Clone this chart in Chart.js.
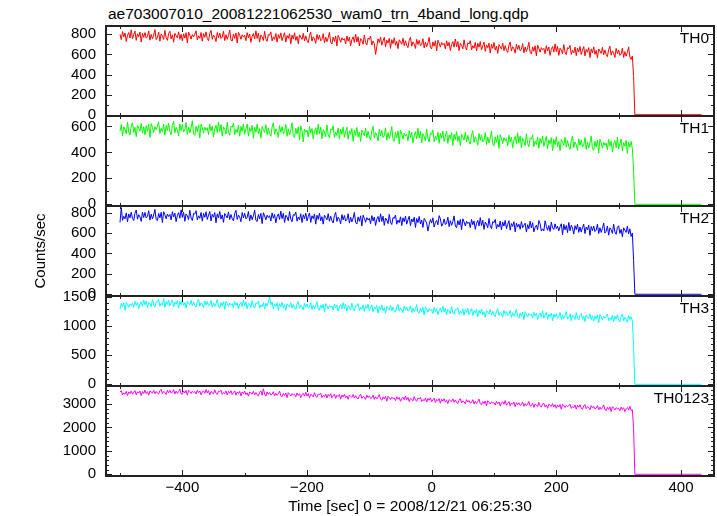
<!DOCTYPE html>
<html>
<head>
<meta charset="utf-8">
<script src="https://cdn.jsdelivr.net/npm/chart.js@4.4.1/dist/chart.umd.min.js"></script>
<style>
  body { margin: 0; background: #fff; }
  #wrap { position: relative; width: 717px; height: 516px; overflow: hidden; }
  #wrap canvas { position: absolute; left: 0; }
  #title {
    position: absolute; left: 108px; top: 5px;
    font: 15.5px "Liberation Sans", Arial, sans-serif; color: #000;
    line-height: 18px; white-space: nowrap;
  }
</style>
</head>
<body>
<div id="wrap">
  <div id="title">ae703007010_20081221062530_wam0_trn_4band_long.qdp</div>
</div>
<script>
/* =========================
    DATA (2 s bins from -500 s, last bin = drop at 324 s)
========================= */

const T0 = -500;
const DT = 2;

const th0 = [
  800, 747, 827, 775, 813, 730, 790, 818, 763, 845,
  755, 797, 833, 740, 805, 777, 823, 723, 810, 770,
  817, 762, 777, 834, 742, 800, 754, 792, 847, 747,
  770, 822, 732, 804, 785, 749, 840, 764, 740, 809,
  830, 755, 795, 722, 810, 788, 765, 825, 750, 800,
  735, 805, 762, 816, 715, 822, 792, 752, 798, 775,
  802, 835, 745, 785, 760, 818, 732, 808, 770, 825,
  758, 736, 808, 840, 750, 793, 772, 728, 818, 766,
  813, 758, 773, 830, 738, 796, 750, 788, 843, 743,
  733, 803, 760, 814, 713, 820, 790, 750, 796, 773,
  790, 737, 817, 765, 803, 720, 780, 808, 753, 835,
  760, 812, 722, 794, 775, 739, 830, 754, 730, 799,
  792, 825, 735, 775, 750, 808, 722, 798, 760, 815,
  738, 780, 816, 723, 788, 760, 806, 706, 793, 753,
  815, 740, 780, 707, 795, 773, 750, 810, 735, 785,
  740, 718, 790, 822, 732, 775, 754, 710, 800, 748,
  790, 735, 750, 807, 715, 773, 727, 765, 820, 720,
  703, 773, 730, 784, 683, 790, 760, 720, 766, 743,
  757, 704, 784, 732, 770, 687, 747, 775, 720, 802,
  723, 775, 685, 757, 738, 702, 793, 717, 693, 762,
  750, 783, 693, 733, 708, 600, 680, 756, 718, 773,
  692, 734, 770, 677, 742, 714, 760, 660, 747, 707,
  766, 691, 731, 658, 746, 724, 701, 761, 686, 736,
  690, 668, 740, 772, 682, 725, 704, 660, 750, 698,
  740, 685, 700, 757, 665, 723, 677, 715, 770, 670,
  655, 725, 682, 736, 635, 742, 712, 672, 718, 695,
  709, 656, 736, 684, 722, 639, 699, 727, 672, 754,
  676, 728, 638, 710, 691, 655, 746, 670, 646, 715,
  704, 737, 647, 687, 662, 720, 634, 710, 672, 727,
  645, 687, 723, 630, 695, 667, 713, 613, 700, 660,
  718, 643, 683, 610, 698, 676, 653, 713, 638, 688,
  642, 620, 692, 724, 634, 677, 656, 612, 702, 650,
  691, 636, 651, 708, 616, 674, 628, 666, 721, 621,
  605, 675, 632, 686, 585, 692, 662, 622, 668, 645,
  660, 607, 687, 635, 673, 590, 650, 678, 623, 705,
  628, 680, 590, 662, 643, 607, 698, 622, 598, 667,
  657, 690, 600, 640, 615, 673, 587, 663, 625, 680,
  600, 642, 678, 585, 650, 622, 668, 568, 655, 615,
  675, 600, 640, 567, 655, 633, 610, 670, 595, 645,
  600, 578, 650, 682, 592, 635, 614, 570, 660, 608,
  645, 590, 605, 662, 570, 628, 582, 620, 675, 575,
  550, 585, 380
];

const th1 = [
  563, 615, 525, 597, 578, 542, 633, 557, 533, 602,
  628, 553, 593, 520, 608, 586, 563, 623, 548, 598,
  535, 605, 562, 616, 515, 622, 592, 552, 598, 575,
  602, 635, 545, 585, 560, 618, 532, 608, 570, 625,
  558, 536, 608, 640, 550, 593, 572, 528, 618, 566,
  613, 558, 573, 630, 538, 596, 550, 588, 643, 543,
  531, 601, 558, 612, 511, 618, 588, 548, 594, 571,
  590, 537, 617, 565, 603, 520, 580, 608, 553, 635,
  562, 614, 524, 596, 577, 541, 632, 556, 532, 601,
  594, 627, 537, 577, 552, 610, 524, 600, 562, 617,
  540, 582, 618, 525, 590, 562, 608, 508, 595, 555,
  618, 543, 583, 510, 598, 576, 553, 613, 538, 588,
  546, 524, 596, 628, 538, 581, 560, 516, 606, 554,
  598, 543, 558, 615, 523, 581, 535, 573, 628, 528,
  515, 585, 542, 596, 495, 602, 572, 480, 578, 555,
  572, 519, 599, 547, 585, 502, 562, 590, 535, 617,
  542, 594, 504, 576, 557, 521, 612, 536, 512, 581,
  572, 605, 515, 555, 530, 588, 502, 578, 540, 595,
  516, 558, 594, 501, 566, 538, 584, 484, 571, 531,
  592, 517, 557, 484, 572, 550, 527, 587, 512, 562,
  518, 496, 568, 600, 510, 553, 532, 488, 578, 526,
  569, 514, 529, 586, 494, 552, 506, 544, 599, 499,
  485, 555, 512, 566, 465, 572, 542, 502, 548, 525,
  541, 488, 568, 516, 554, 471, 531, 559, 504, 586,
  510, 562, 472, 544, 525, 489, 580, 504, 480, 549,
  540, 573, 483, 523, 498, 556, 470, 546, 508, 563,
  484, 526, 562, 469, 534, 506, 552, 452, 539, 499,
  560, 485, 525, 452, 540, 518, 495, 555, 480, 530,
  485, 463, 535, 567, 477, 520, 499, 455, 545, 493,
  535, 480, 495, 552, 460, 518, 472, 510, 565, 465,
  450, 520, 477, 531, 430, 537, 507, 467, 513, 490,
  505, 452, 532, 480, 518, 435, 495, 523, 468, 550,
  473, 525, 435, 507, 488, 452, 543, 467, 443, 512,
  502, 535, 445, 485, 460, 518, 432, 508, 470, 525,
  445, 487, 523, 430, 495, 467, 513, 413, 500, 460,
  520, 445, 485, 412, 500, 478, 455, 515, 440, 490,
  445, 423, 495, 527, 437, 480, 459, 415, 505, 453,
  497, 442, 457, 514, 422, 480, 434, 472, 527, 427,
  415, 485, 442, 496, 395, 502, 472, 432, 478, 455,
  473, 420, 500, 448, 486, 403, 463, 491, 436, 518,
  425, 467, 503, 410, 475, 447, 493, 393, 480, 440,
  485, 430, 260
];

const th2 = [
  705, 850, 725, 765, 740, 798, 712, 788, 750, 805,
  745, 723, 795, 827, 737, 780, 759, 715, 805, 753,
  803, 748, 763, 820, 728, 786, 740, 778, 833, 733,
  723, 793, 750, 804, 703, 810, 780, 740, 786, 763,
  783, 730, 810, 758, 796, 713, 773, 801, 746, 828,
  754, 806, 716, 788, 769, 733, 824, 748, 724, 793,
  787, 820, 730, 770, 745, 803, 717, 793, 755, 810,
  734, 776, 812, 719, 784, 756, 802, 702, 789, 749,
  813, 738, 778, 705, 793, 771, 748, 808, 733, 783,
  742, 720, 792, 824, 734, 777, 756, 712, 802, 750,
  795, 740, 755, 812, 720, 778, 732, 770, 825, 725,
  713, 783, 740, 794, 693, 800, 770, 730, 776, 753,
  771, 718, 798, 746, 784, 701, 761, 789, 734, 816,
  742, 794, 704, 776, 757, 721, 812, 736, 712, 781,
  774, 807, 717, 757, 732, 790, 704, 780, 742, 797,
  720, 762, 798, 705, 770, 742, 788, 688, 775, 735,
  796, 721, 761, 688, 776, 754, 731, 791, 716, 766,
  722, 700, 772, 804, 714, 757, 736, 692, 782, 730,
  773, 718, 733, 790, 698, 756, 710, 748, 803, 703,
  689, 759, 716, 770, 669, 776, 746, 706, 752, 729,
  745, 692, 772, 720, 758, 675, 735, 763, 708, 790,
  714, 766, 676, 748, 729, 693, 784, 708, 684, 753,
  744, 777, 687, 727, 702, 760, 674, 750, 712, 767,
  688, 730, 766, 673, 738, 710, 756, 656, 743, 703,
  764, 689, 729, 656, 744, 722, 699, 620, 684, 734,
  698, 750, 660, 704, 725, 682, 772, 740, 668, 690,
  739, 684, 699, 756, 664, 722, 676, 714, 769, 669,
  653, 723, 680, 734, 633, 740, 710, 670, 716, 693,
  707, 654, 734, 682, 720, 637, 697, 725, 670, 752,
  674, 726, 636, 708, 689, 653, 744, 668, 644, 713,
  702, 735, 645, 685, 660, 718, 632, 708, 670, 725,
  644, 686, 722, 629, 694, 666, 712, 612, 699, 659,
  688, 638, 713, 653, 676, 698, 610, 683, 643, 718,
  650, 702, 612, 656, 677, 634, 724, 692, 620, 642,
  621, 721, 666, 628, 674, 616, 708, 651, 636, 691,
  645, 668, 622, 662, 692, 585, 686, 632, 675, 605,
  705, 623, 678, 650, 590, 673, 635, 687, 607, 660,
  610, 652, 688, 595, 660, 632, 678, 578, 665, 625,
  670, 615, 630, 687, 595, 653, 607, 645, 700, 600,
  618, 670, 580, 652, 633, 597, 688, 612, 588, 657,
  672, 597, 637, 564, 652, 630, 607, 667, 592, 642,
  567, 600, 330
];

const th3 = [
  1301, 1393, 1337, 1407, 1275, 1415, 1376, 1324, 1383, 1353,
  1395, 1326, 1430, 1362, 1411, 1303, 1382, 1418, 1346, 1453,
  1369, 1437, 1320, 1414, 1389, 1342, 1460, 1362, 1330, 1420,
  1419, 1462, 1344, 1397, 1364, 1480, 1328, 1426, 1377, 1449,
  1353, 1408, 1454, 1333, 1418, 1382, 1441, 1311, 1425, 1372,
  1455, 1357, 1410, 1315, 1429, 1400, 1370, 1449, 1351, 1416,
  1359, 1330, 1424, 1466, 1349, 1405, 1377, 1320, 1437, 1369,
  1426, 1354, 1373, 1448, 1328, 1403, 1344, 1393, 1465, 1334,
  1317, 1409, 1353, 1423, 1291, 1431, 1392, 1340, 1399, 1369,
  1392, 1323, 1427, 1359, 1408, 1300, 1379, 1415, 1343, 1450,
  1352, 1420, 1303, 1397, 1372, 1325, 1443, 1345, 1313, 1403,
  1391, 1434, 1316, 1369, 1336, 1411, 1300, 1398, 1349, 1421,
  1500, 1372, 1418, 1297, 1382, 1346, 1405, 1275, 1389, 1336,
  1415, 1317, 1370, 1275, 1389, 1360, 1330, 1409, 1311, 1376,
  1319, 1290, 1384, 1426, 1309, 1365, 1337, 1280, 1397, 1329,
  1386, 1314, 1333, 1408, 1288, 1363, 1304, 1353, 1425, 1294,
  1276, 1368, 1312, 1382, 1250, 1390, 1351, 1299, 1358, 1328,
  1350, 1281, 1385, 1317, 1366, 1258, 1337, 1373, 1301, 1408,
  1309, 1377, 1260, 1354, 1329, 1282, 1400, 1302, 1270, 1360,
  1349, 1392, 1274, 1327, 1294, 1369, 1258, 1356, 1307, 1379,
  1269, 1324, 1370, 1249, 1334, 1298, 1357, 1227, 1341, 1288,
  1367, 1269, 1322, 1227, 1341, 1312, 1282, 1361, 1263, 1328,
  1270, 1241, 1335, 1377, 1260, 1316, 1288, 1231, 1348, 1280,
  1334, 1262, 1281, 1356, 1236, 1311, 1252, 1301, 1373, 1242,
  1221, 1313, 1257, 1327, 1195, 1335, 1296, 1244, 1303, 1273,
  1290, 1221, 1325, 1257, 1306, 1198, 1277, 1313, 1241, 1348,
  1246, 1314, 1197, 1291, 1266, 1219, 1337, 1239, 1207, 1297,
  1281, 1324, 1206, 1259, 1226, 1301, 1190, 1288, 1239, 1311,
  1203, 1258, 1304, 1183, 1268, 1232, 1291, 1161, 1275, 1222,
  1297, 1199, 1252, 1157, 1271, 1242, 1212, 1291, 1193, 1258,
  1196, 1167, 1261, 1303, 1186, 1242, 1214, 1157, 1274, 1206,
  1256, 1184, 1203, 1278, 1158, 1233, 1174, 1223, 1295, 1164,
  1139, 1231, 1175, 1245, 1113, 1253, 1214, 1162, 1221, 1191,
  1208, 1139, 1243, 1175, 1224, 1116, 1195, 1231, 1159, 1266,
  1139, 1194, 1240, 1119, 1204, 1168, 1227, 1097, 1211, 1158,
  1216, 1144, 1163, 1238, 1118, 1193, 1134, 1183, 1255, 1124,
  1146, 1214, 1097, 1191, 1166, 1119, 1237, 1139, 1107, 1197,
  1220, 1122, 1175, 1080, 1194, 1165, 1135, 1214, 1116, 1181,
  1089, 1181, 1125, 1195, 1063, 1203, 1164, 1112, 1171, 1141,
  1169, 1212, 1094, 1147, 1114, 1189, 1078, 1176, 1127, 1199,
  1106, 1077, 1171, 1213, 1096, 1152, 1124, 1067, 1184, 1116,
  1166, 1094, 650
];

const th0123 = [
  3504, 3570, 3390, 3470, 3420, 3536, 3364, 3516, 3440, 3550,
  3420, 3504, 3576, 3390, 3520, 3464, 3556, 3356, 3530, 3450,
  3595, 3445, 3525, 3379, 3555, 3511, 3465, 3585, 3435, 3535,
  3465, 3421, 3565, 3629, 3449, 3535, 3493, 3405, 3585, 3481,
  3580, 3470, 3500, 3614, 3430, 3546, 3454, 3530, 3640, 3440,
  3415, 3555, 3469, 3577, 3375, 3589, 3529, 3449, 3541, 3495,
  3530, 3424, 3584, 3480, 3556, 3390, 3510, 3566, 3456, 3620,
  3466, 3570, 3390, 3534, 3496, 3424, 3606, 3454, 3406, 3544,
  3524, 3590, 3410, 3490, 3440, 3556, 3384, 3536, 3460, 3570,
  3405, 3489, 3561, 3375, 3505, 3449, 3541, 3341, 3515, 3435,
  3550, 3400, 3480, 3334, 3510, 3466, 3420, 3540, 3390, 3490,
  3395, 3351, 3495, 3559, 3379, 3650, 3423, 3335, 3515, 3411,
  3490, 3380, 3410, 3524, 3340, 3456, 3364, 3440, 3550, 3350,
  3310, 3450, 3364, 3472, 3270, 3484, 3424, 3344, 3436, 3390,
  3415, 3309, 3469, 3365, 3441, 3275, 3395, 3451, 3341, 3505,
  3344, 3448, 3268, 3412, 3374, 3302, 3484, 3332, 3284, 3422,
  3394, 3460, 3280, 3360, 3310, 3426, 3254, 3406, 3330, 3440,
  3272, 3356, 3428, 3242, 3372, 3316, 3408, 3208, 3382, 3302,
  3414, 3264, 3344, 3198, 3374, 3330, 3284, 3404, 3254, 3354,
  3256, 3212, 3356, 3420, 3240, 3326, 3284, 3196, 3376, 3272,
  3345, 3235, 3265, 3379, 3195, 3311, 3219, 3295, 3405, 3205,
  3160, 3300, 3214, 3322, 3120, 3334, 3274, 3194, 3286, 3240,
  3255, 3149, 3309, 3205, 3281, 3115, 3235, 3291, 3181, 3345,
  3176, 3280, 3100, 3244, 3206, 3134, 3316, 3164, 3116, 3254,
  3222, 3288, 3108, 3188, 3138, 3254, 3082, 3234, 3158, 3268,
  3095, 3179, 3251, 3065, 3195, 3139, 3231, 3031, 3205, 3125,
  3230, 3080, 3160, 3014, 3190, 3146, 3100, 3220, 3070, 3170,
  3065, 3021, 3165, 3229, 3049, 3135, 3093, 3005, 3185, 3081,
  3150, 3040, 3070, 3184, 3000, 3116, 3024, 3100, 3210, 3010,
  2965, 3105, 3019, 3127, 2925, 3139, 3079, 2999, 3091, 3045,
  3060, 2954, 3114, 3010, 3086, 2920, 3040, 3096, 2986, 3150,
  2945, 3029, 3101, 2915, 3045, 2989, 3081, 2881, 3055, 2975,
  3050, 2940, 2970, 3084, 2900, 3016, 2924, 3000, 3110, 2910,
  2931, 3035, 2855, 2999, 2961, 2889, 3071, 2919, 2871, 3009,
  3030, 2880, 2960, 2814, 2990, 2946, 2900, 3020, 2870, 2970,
  2815, 2955, 2869, 2977, 2775, 2989, 2929, 2849, 2941, 2895,
  2924, 2990, 2810, 2890, 2840, 2956, 2784, 2936, 2860, 2970,
  2815, 2771, 2915, 2979, 2799, 2885, 2843, 2755, 2935, 2831,
  2900, 2790, 2820, 2934, 2750, 2866, 2774, 2850, 2960, 2760,
  2715, 2855, 2769, 2877, 2675, 2889, 2829, 2749, 2841, 2795,
  2815, 2709, 2869, 2765, 2841, 2675, 2795, 2851, 2741, 2905,
  2716, 2760, 1950
];

// after the drop the rate is ~0 until end of data
const offTime = [326, 433];
const offRate = [0, 0];

const bandNames = ["TH0", "TH1", "TH2", "TH3", "TH0123"];
const bandColors = ["#ff0000", "#00ff00", "#0000ff", "#00ffff", "#ff00ff"];

// y ranges + tick labels of each panel
const yMin = [-13, -13, -17, -29, -73];
const yMax = [883, 680, 866, 1522, 3768];
const yTicks = [
  [0, 200, 400, 600, 800],
  [0, 200, 400, 600],
  [0, 200, 400, 600, 800],
  [0, 500, 1000, 1500],
  [0, 1000, 2000, 3000]
];
const yMinor = [100, 100, 100, 100, 200];

const xMin = -522.5;
const xMax = 453;
const xTicks = [-400, -200, 0, 200, 400];
const xMajor = 200;
const xMinor = 100;


/* =========================
    LAYOUT
========================= */

const PANEL_TOP = [26, 116, 206, 296, 386];
const PANEL_H = 90;
const PAD = 22;
const LEFT = 106;
const RIGHT = 714;
const W = 717;
const X_AXIS_H = 40;
const FONT = '"Liberation Sans", Arial, sans-serif';

const fmt = v => v < 0 ? "\u2212" + Math.abs(v) : String(v);


/* =========================
    FRAME + INWARD TICKS
========================= */

const framePlugin = {
  id: "frame",
  afterDatasetsDraw(chart, args, opts) {
    const { ctx, chartArea: a, scales: { x, y } } = chart;
    ctx.save();
    ctx.strokeStyle = "#222";
    ctx.lineWidth = 1;
    ctx.beginPath();

    // x ticks top + bottom
    for (let v = Math.ceil(x.min / xMinor) * xMinor; v <= x.max; v += xMinor) {
      const px = Math.round(x.getPixelForValue(v)) + 0.5;
      const len = v % xMajor === 0 ? 6 : 3;
      ctx.moveTo(px, a.bottom); ctx.lineTo(px, a.bottom - len);
      ctx.moveTo(px, a.top); ctx.lineTo(px, a.top + len);
    }

    // y ticks left + right
    const major = opts.ticks;
    for (let v = Math.ceil(y.min / opts.minor) * opts.minor; v <= y.max; v += opts.minor) {
      const py = Math.round(y.getPixelForValue(v)) + 0.5;
      const len = major.includes(v) ? 6 : 3;
      ctx.moveTo(a.left, py); ctx.lineTo(a.left + len, py);
      ctx.moveTo(a.right, py); ctx.lineTo(a.right - len, py);
    }
    ctx.stroke();

    ctx.lineWidth = 2;
    ctx.strokeRect(a.left, a.top, a.right - a.left, a.bottom - a.top);

    // band name
    ctx.fillStyle = "#000";
    ctx.font = "15.5px " + FONT;
    ctx.textAlign = "right";
    ctx.textBaseline = "alphabetic";
    ctx.fillText(opts.label, a.right - 5, a.top + 17);
    ctx.restore();
  }
};


/* =========================
    PANELS
========================= */

const wrap = document.getElementById("wrap");
const series = [th0, th1, th2, th3, th0123];

series.forEach((vals, k) => {
  const last = k === series.length - 1;
  const canvas = document.createElement("canvas");
  const top = PANEL_TOP[k] - PAD;
  const h = last ? 516 - top : PANEL_H + 2 * PAD;
  canvas.width = W;
  canvas.height = h;
  canvas.style.top = top + "px";
  wrap.appendChild(canvas);

  const pts = vals.map((v, i) => ({ x: T0 + i * DT, y: v }));
  offTime.forEach((t, i) => pts.push({ x: t, y: offRate[i] }));

  new Chart(canvas, {
    type: "line",
    data: {
      datasets: [{
        data: pts,
        borderColor: bandColors[k],
        borderWidth: 1,
        pointRadius: 0,
        tension: 0,
        fill: false
      }]
    },
    options: {
      responsive: false,
      animation: false,
      parsing: false,
      layout: { padding: { top: PAD, bottom: last ? 0 : PAD, left: 0, right: W - RIGHT } },
      plugins: {
        legend: { display: false },
        tooltip: { enabled: false },
        frame: { label: bandNames[k], ticks: yTicks[k], minor: yMinor[k] }
      },
      scales: {
        x: {
          type: "linear",
          min: xMin,
          max: xMax,
          bounds: "data",
          display: last,
          grid: { display: false, drawTicks: false },
          border: { display: false },
          afterBuildTicks: s => { s.ticks = xTicks.map(v => ({ value: v })); },
          afterFit: s => { s.height = last ? X_AXIS_H : 0; },
          ticks: {
            autoSkip: false,
            maxRotation: 0,
            padding: 3,
            color: "#000",
            font: { family: FONT, size: 15 },
            callback: v => fmt(v)
          },
          title: {
            display: last,
            text: "Time [sec] 0 = 2008/12/21 06:25:30",
            color: "#000",
            font: { family: FONT, size: 15.5 },
            padding: { top: 0, bottom: 0 }
          }
        },
        y: {
          type: "linear",
          min: yMin[k],
          max: yMax[k],
          bounds: "data",
          grid: { display: false, drawTicks: false },
          border: { display: false },
          afterBuildTicks: s => { s.ticks = yTicks[k].map(v => ({ value: v })); },
          afterFit: s => { s.width = LEFT; },
          ticks: {
            autoSkip: false,
            padding: 10,
            color: "#000",
            font: { family: FONT, size: 15 },
            callback: v => fmt(v)
          },
          title: {
            display: k === 2,
            text: "Counts/sec",
            color: "#000",
            font: { family: FONT, size: 15 },
            padding: { top: 32, bottom: 0 }
          }
        }
      }
    },
    plugins: [framePlugin]
  });
});
</script>
</body>
</html>
